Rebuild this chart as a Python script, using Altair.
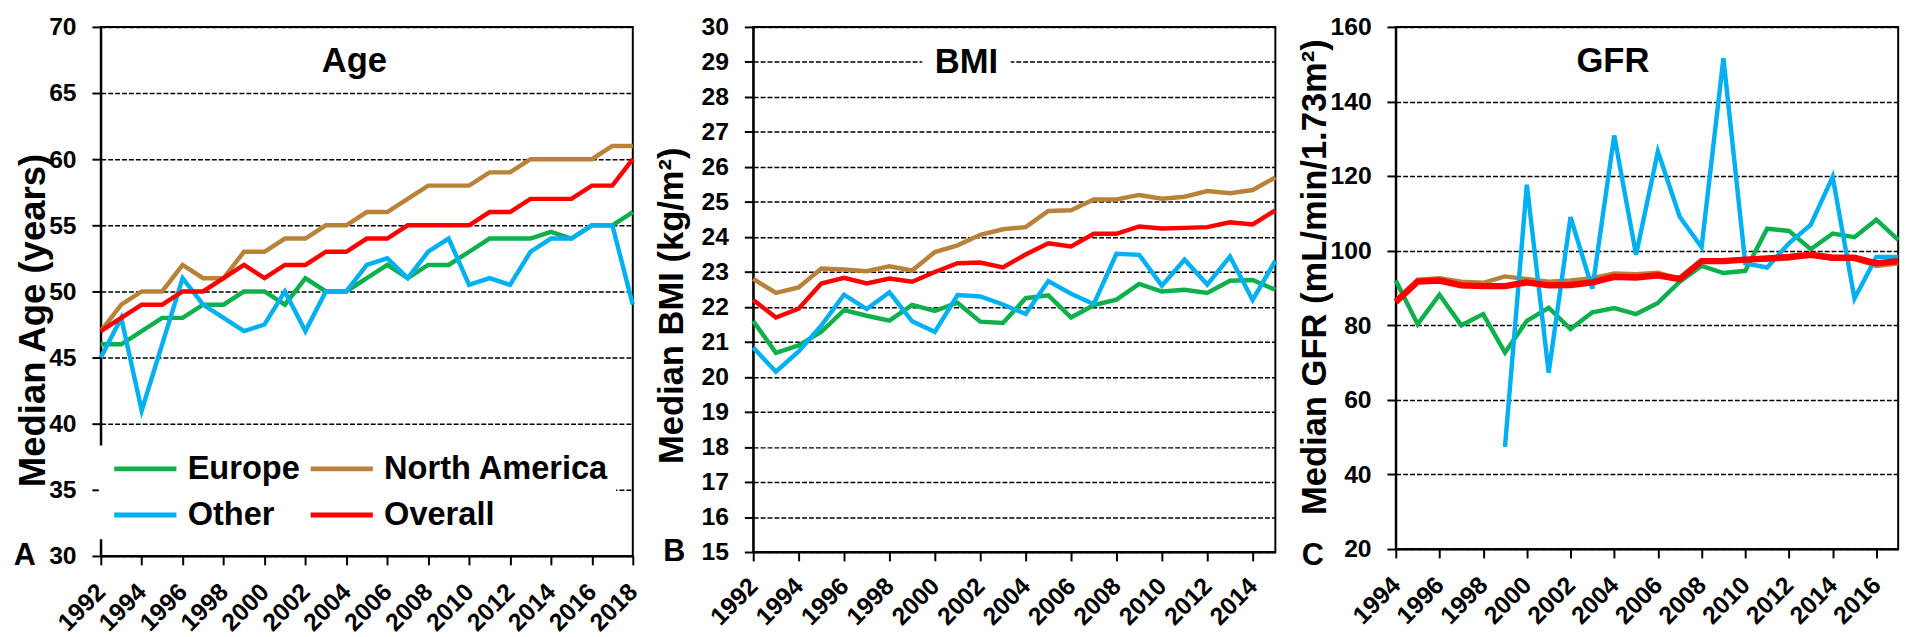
import altair as alt
import pandas as pd

FONT = "Liberation Sans"
# legend order (filled column by column): Europe / Other | North America / Overall
SERIES = ["Europe", "Other", "North America", "Overall"]
COLORS = ["#0DB04B", "#00B0F0", "#B8823A", "#FF0000"]

# ---------------- Age ----------------
AGE_YEARS = [1992, 1993, 1994, 1995, 1996, 1997, 1998, 1999, 2000, 2001, 2002, 2003, 2004, 2005,
             2006, 2007, 2008, 2009, 2010, 2011, 2012, 2013, 2014, 2015, 2016, 2017, 2018]
AGE_EUROPE = [46, 46, 47, 48, 48, 49, 49, 50, 50, 49, 51, 50, 50, 51,
              52, 51, 52, 52, 53, 54, 54, 54, 54.5, 54, 55, 55, 56]
AGE_NORTH_AMERICA = [47, 49, 50, 50, 52, 51, 51, 53, 53, 54, 54, 55, 55, 56,
                     56, 57, 58, 58, 58, 59, 59, 60, 60, 60, 60, 61, 61]
AGE_OTHER = [45, 48, 41, 46, 51, 49, 48, 47, 47.5, 50, 47, 50, 50, 52,
             52.5, 51, 53, 54, 50.5, 51, 50.5, 53, 54, 54, 55, 55, 49]
AGE_OVERALL = [47, 48, 49, 49, 50, 50, 51, 52, 51, 52, 52, 53, 53, 54,
               54, 55, 55, 55, 55, 56, 56, 57, 57, 57, 58, 58, 60]
AGE_X_TICKS = [1992, 1994, 1996, 1998, 2000, 2002, 2004, 2006, 2008, 2010, 2012, 2014, 2016, 2018]
AGE_Y_TICKS = [30, 35, 40, 45, 50, 55, 60, 65, 70]

# ---------------- BMI ----------------
BMI_YEARS = [1992, 1993, 1994, 1995, 1996, 1997, 1998, 1999, 2000, 2001, 2002, 2003,
             2004, 2005, 2006, 2007, 2008, 2009, 2010, 2011, 2012, 2013, 2014, 2015]
BMI_EUROPE = [21.6, 20.69, 20.9, 21.29, 21.91, 21.75, 21.61, 22.06, 21.89, 22.12, 21.58, 21.54,
              22.25, 22.33, 21.7, 22.05, 22.21, 22.66, 22.44, 22.49, 22.4, 22.75, 22.77, 22.49]
BMI_NORTH_AMERICA = [22.8, 22.4, 22.56, 23.1, 23.07, 23.02, 23.16, 23.04, 23.57, 23.76, 24.06, 24.22,
                     24.28, 24.74, 24.76, 25.07, 25.07, 25.2, 25.09, 25.15, 25.31, 25.25, 25.34, 25.7]
BMI_OTHER = [20.84, 20.15, 20.73, 21.47, 22.35, 21.94, 22.42, 21.59, 21.29, 22.34, 22.3, 22.07,
             21.8, 22.74, 22.38, 22.08, 23.52, 23.49, 22.61, 23.35, 22.64, 23.44, 22.2, 23.32]
BMI_OVERALL = [22.2, 21.7, 21.95, 22.67, 22.83, 22.67, 22.81, 22.72, 23.0, 23.25, 23.27, 23.13,
               23.5, 23.82, 23.73, 24.09, 24.09, 24.3, 24.24, 24.26, 24.28, 24.42, 24.36, 24.76]
BMI_X_TICKS = [1992, 1994, 1996, 1998, 2000, 2002, 2004, 2006, 2008, 2010, 2012, 2014]
BMI_Y_TICKS = [15, 16, 17, 18, 19, 20, 21, 22, 23, 24, 25, 26, 27, 28, 29, 30]

# ---------------- GFR ----------------
GFR_YEARS = [1994, 1995, 1996, 1997, 1998, 1999, 2000, 2001, 2002, 2003, 2004, 2005,
             2006, 2007, 2008, 2009, 2010, 2011, 2012, 2013, 2014, 2015, 2016, 2017]
GFR_EUROPE = [92.0, 80.3, 88.2, 80.0, 83.0, 72.7, 81.2, 84.7, 79.0, 83.5, 84.6, 83.0,
              86.0, 91.7, 95.9, 94.0, 94.6, 105.9, 105.3, 100.4, 104.6, 103.6, 108.3, 102.9]
GFR_NORTH_AMERICA = [86.5, 92.2, 92.6, 91.7, 91.4, 93.1, 92.4, 91.7, 92.0, 92.6, 93.9, 93.7,
                     94.1, 92.4, 97.2, 97.2, 97.5, 97.6, 97.9, 98.9, 97.8, 97.8, 95.9, 96.6]
GFR_OTHER_YEARS = [1999, 2000, 2001, 2002, 2003, 2004, 2005, 2006, 2007, 2008,
                   2009, 2010, 2011, 2012, 2013, 2014, 2015, 2016, 2017]
GFR_OTHER = [47.4, 117.7, 67.3, 109.0, 89.8, 130.9, 98.9, 126.6, 109.1, 100.9,
             151.6, 96.6, 95.5, 102.0, 107.0, 119.8, 87.2, 98.3, 98.3]
GFR_OVERALL = [86.3, 91.7, 92.0, 90.7, 90.5, 90.5, 91.5, 90.7, 90.8, 91.5, 93.0, 92.8,
               93.4, 92.4, 97.2, 97.2, 97.6, 97.9, 98.3, 98.9, 98.1, 98.1, 96.6, 97.2]
GFR_X_TICKS = [1994, 1996, 1998, 2000, 2002, 2004, 2006, 2008, 2010, 2012, 2014, 2016]
GFR_Y_TICKS = [20, 40, 60, 80, 100, 120, 140, 160]


def long_df(parts):
    rows = []
    for name, years, vals in parts:
        for yr, v in zip(years, vals):
            rows.append({"series": name, "year": yr, "value": v})
    return pd.DataFrame(rows)


age_df = long_df([("Europe", AGE_YEARS, AGE_EUROPE), ("North America", AGE_YEARS, AGE_NORTH_AMERICA),
                  ("Other", AGE_YEARS, AGE_OTHER), ("Overall", AGE_YEARS, AGE_OVERALL)])
bmi_df = long_df([("Europe", BMI_YEARS, BMI_EUROPE), ("North America", BMI_YEARS, BMI_NORTH_AMERICA),
                  ("Other", BMI_YEARS, BMI_OTHER), ("Overall", BMI_YEARS, BMI_OVERALL)])
gfr_df = long_df([("Europe", GFR_YEARS, GFR_EUROPE), ("North America", GFR_YEARS, GFR_NORTH_AMERICA),
                  ("Other", GFR_OTHER_YEARS, GFR_OTHER), ("Overall", GFR_YEARS, GFR_OVERALL)])


def panel(df, xdom, xticks, ydom, yticks, w, h, ytitle, ytitle_size, ytitle_x, ytitle_y,
          xlab_pad, name, name_x, name_y, halo, letter, letter_x, letter_y, red_width, legend):
    xenc = alt.X("year:Q", scale=alt.Scale(domain=xdom, nice=False, zero=False),
                 axis=alt.Axis(values=xticks, format="d", title=None, grid=False, labelAngle=315,
                               labelAlign="right", labelBaseline="middle", labelPadding=xlab_pad,
                               labelFlush=False, labelOverlap=False, tickSize=9, labelFontSize=25))
    yenc = alt.Y("value:Q", scale=alt.Scale(domain=ydom, nice=False, zero=False),
                 axis=alt.Axis(values=yticks, title=ytitle, titleFontSize=ytitle_size,
                               titleX=ytitle_x, titleY=ytitle_y,
                               grid=True, gridColor="black", gridDash=[5, 2], gridWidth=1.5,
                               tickSize=9, labelPadding=16, labelFontSize=25, labelOverlap=False))
    cenc = alt.Color("series:N", scale=alt.Scale(domain=SERIES, range=COLORS), legend=legend)
    base = alt.Chart(df).encode(x=xenc, y=yenc, color=cenc)
    others = base.transform_filter(alt.datum.series != "Overall").mark_line(strokeWidth=4.5)
    overall = base.transform_filter(alt.datum.series == "Overall").mark_line(strokeWidth=red_width)
    layers = [others, overall]
    tdf = pd.DataFrame({"t": [name]})
    if halo:
        layers.append(alt.Chart(tdf).mark_text(font=FONT, fontWeight="bold", fontSize=35, fill="white",
                                               stroke="white", strokeWidth=30, strokeJoin="round",
                                               align="center", baseline="middle")
                      .encode(x=alt.value(name_x), y=alt.value(name_y), text="t:N"))
    layers.append(alt.Chart(tdf).mark_text(font=FONT, fontWeight="bold", fontSize=35, color="black",
                                           align="center", baseline="middle")
                  .encode(x=alt.value(name_x), y=alt.value(name_y), text="t:N"))
    ldf = pd.DataFrame({"t": [letter]})
    layers.append(alt.Chart(ldf).mark_text(font=FONT, fontWeight="bold", fontSize=31, color="black",
                                           align="center", baseline="middle")
                  .encode(x=alt.value(letter_x), y=alt.value(letter_y), text="t:N"))
    return alt.layer(*layers).properties(width=w, height=h)


age_legend = alt.Legend(title=None, orient="none", legendX=-2, legendY=424, columns=2,
                        columnPadding=0, rowPadding=13, padding=7, fillColor="white",
                        labelFont=FONT, labelFontSize=33, labelFontWeight="bold", labelColor="black",
                        labelLimit=400, symbolType="M-1,0H7", symbolSize=248, symbolStrokeWidth=5,
                        labelOffset=50)

age = panel(age_df, [1992, 2018], AGE_X_TICKS, [30, 70], AGE_Y_TICKS, 539, 536,
            "Median Age (years)", 37, -49, 297, 23, "Age", 257, 35, False, "A", -77, 536, 4.5, age_legend)
bmi = panel(bmi_df, [1992, 2015], BMI_X_TICKS, [15, 30], BMI_Y_TICKS, 529, 532,
            "Median BMI (kg/m²)", 35, -65, 282, 21, "BMI", 216, 36, True, "B", -80, 532, 4.5, None)
gfr = panel(gfr_df, [1994, 2017], GFR_X_TICKS, [20, 160], GFR_Y_TICKS, 509, 529,
            "Median GFR (mL/min/1.73m²)", 35, -64, 253, 23, "GFR", 220, 35, False, "C", -84, 536, 6.5, None)

chart = alt.hconcat(age, bmi, gfr, spacing=122, bounds="flush").resolve_scale(color="independent")
chart = chart.properties(padding={"left": 4, "top": 2, "right": 0, "bottom": 0})
chart = chart.configure_view(stroke="black", strokeWidth=2).configure_axis(
    domainColor="black", domainWidth=2, tickColor="black", tickWidth=2,
    labelColor="black", labelFont=FONT, labelFontWeight="bold",
    titleColor="black", titleFont=FONT, titleFontWeight="bold")

chart.save("out.html", embed_options={"renderer": "svg", "actions": False})
